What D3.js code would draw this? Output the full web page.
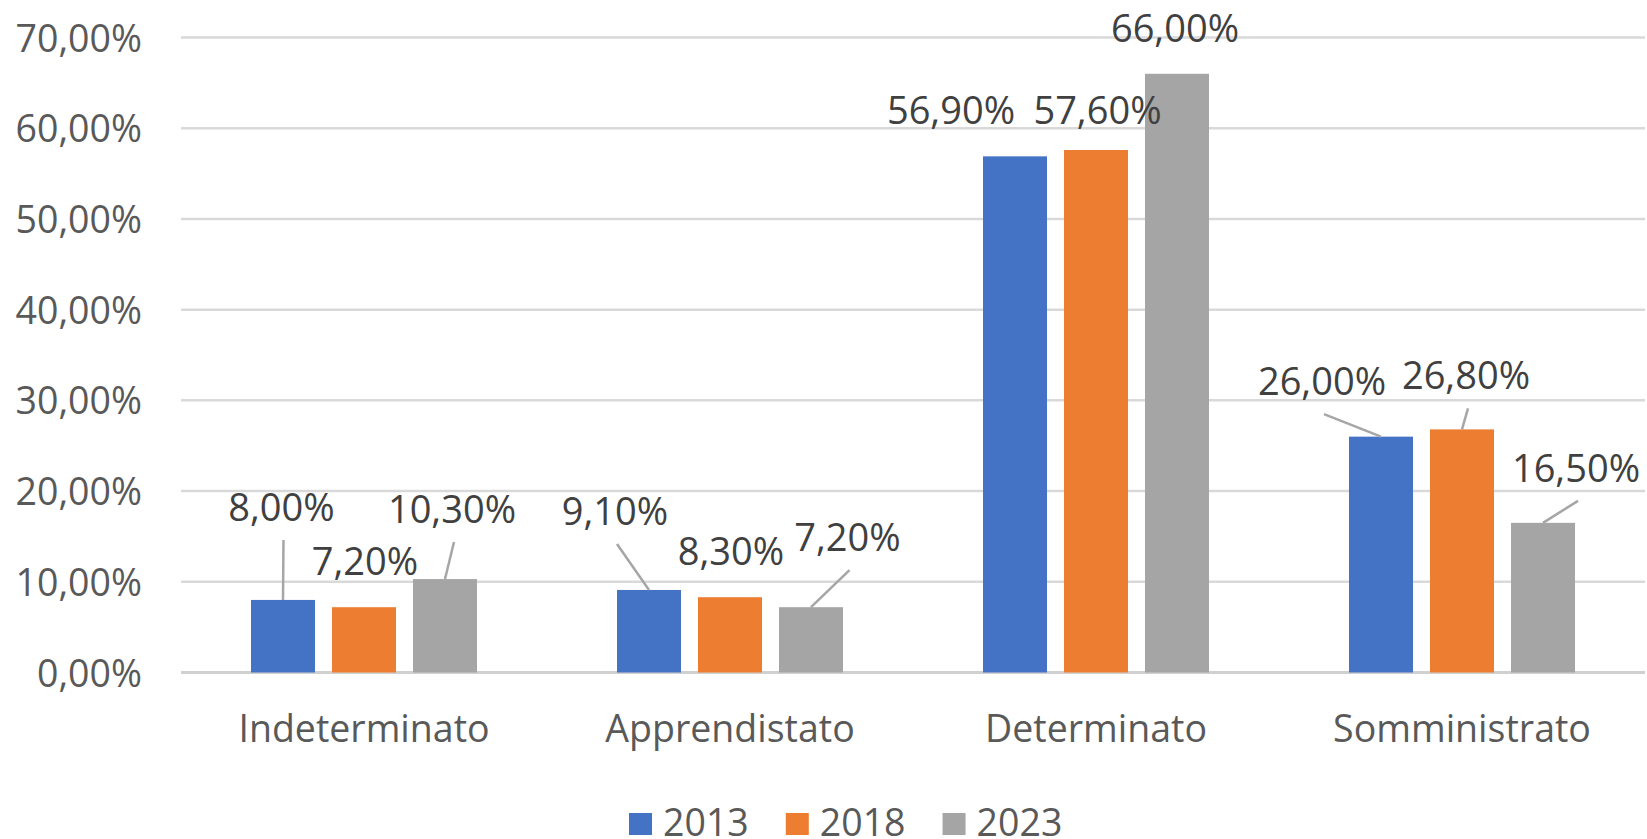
<!DOCTYPE html>
<html>
<head>
<meta charset="utf-8">
<script src="https://cdn.jsdelivr.net/npm/d3@7"></script>
<style>
  html, body { margin: 0; padding: 0; background: #ffffff; }
  svg { display: block; }
  text { font-family: "Open Sans", "Noto Sans", sans-serif; }
</style>
</head>
<body>
<svg id="chart" width="1647" height="839"></svg>
<script>
// ---- data ----
const categories = ["Indeterminato", "Apprendistato", "Determinato", "Somministrato"];
const years = ["2013", "2018", "2023"];
const values2013 = [8.0, 9.1, 56.9, 26.0];
const values2018 = [7.2, 8.3, 57.6, 26.8];
const values2023 = [10.3, 7.2, 66.0, 16.5];
const yTicks = [0, 10, 20, 30, 40, 50, 60, 70];

// ---- layout / style (not data) ----
const colors = ["#4472C4", "#ED7D31", "#A5A5A5"];
// manual data-label placement, relative to the top-centre of each bar (px)
const labelOffsets = [
  [[-1.5, -93], [1, -46], [7, -70]],
  [[-34, -79], [1, -46], [36.5, -70]],
  [[-64, -46], [1.5, -40], [-2, -45]],
  [[-59, -55.5], [4, -54], [33, -55]]
];

const series = [values2013, values2018, values2023];
const fmt = v => v.toFixed(2).replace(".", ",") + "%";

const svg = d3.select("#chart");
const plotLeft = 181, plotRight = 1645, plotTop = 37.5, plotBottom = 672.5;

const y = d3.scaleLinear().domain([0, 70]).range([plotBottom, plotTop]);
const x0 = d3.scaleBand().domain(categories).range([plotLeft, plotRight]).padding(0);
const groupInset = 70;
const x1 = d3.scaleBand().domain(years)
  .range([groupInset, x0.bandwidth() - groupInset]).paddingInner(0.21).paddingOuter(0);

// gridlines
svg.append("g")
  .selectAll("line")
  .data(yTicks)
  .join("line")
  .attr("x1", plotLeft).attr("x2", plotRight)
  .attr("y1", d => y(d)).attr("y2", d => y(d))
  .attr("stroke", d => d === 0 ? "#D0D0D0" : "#D9D9D9")
  .attr("stroke-width", d => d === 0 ? 3 : 2.5);

// y axis labels
const yAxis = d3.axisLeft(y).tickValues(yTicks).tickFormat(fmt).tickSize(0).tickPadding(0);
const yg = svg.append("g").attr("transform", `translate(142,0)`).call(yAxis);
yg.select(".domain").remove();
yg.selectAll("text")
  .attr("fill", "#595959")
  .style("font-size", "37.5px")
  .attr("dy", "0.36em")
  .style("font-family", '"Open Sans", sans-serif');

// category labels
const xAxis = d3.axisBottom(x0).tickSize(0).tickPadding(0);
const xg = svg.append("g").attr("transform", `translate(0,0)`).call(xAxis);
xg.select(".domain").remove();
xg.selectAll("text")
  .attr("y", 741.5).attr("dy", null)
  .attr("fill", "#595959")
  .style("font-size", "37.5px")
  .style("font-family", '"Open Sans", sans-serif');

// bars
const rows = [];
categories.forEach((c, ci) => {
  years.forEach((yr, si) => {
    rows.push({ c, ci, yr, si, v: series[si][ci] });
  });
});

const groups = svg.append("g").selectAll("g")
  .data(categories)
  .join("g")
  .attr("transform", d => `translate(${x0(d)},0)`);

groups.selectAll("rect")
  .data((c, ci) => rows.filter(r => r.ci === ci))
  .join("rect")
  .attr("x", d => x1(d.yr))
  .attr("width", x1.bandwidth())
  .attr("y", d => y(d.v))
  .attr("height", d => y(0) - y(d.v))
  .attr("fill", d => colors[d.si]);

// data labels + leader lines
const labelLayer = svg.append("g");
rows.forEach(r => {
  const bx = x0(r.c) + x1(r.yr) + x1.bandwidth() / 2;
  const by = y(r.v);
  const [dx, dy] = labelOffsets[r.ci][r.si];
  const cx = bx + dx, cy = by + dy;
  const ex = cx + 2, ey = cy + 33;
  if (by - ey > 15) {
    labelLayer.append("line")
      .attr("x1", bx).attr("y1", by)
      .attr("x2", ex).attr("y2", ey)
      .attr("stroke", "#A6A6A6")
      .attr("stroke-width", 2.5);
  }
  labelLayer.append("text")
    .attr("x", cx).attr("y", cy)
    .attr("dy", "0.36em")
    .attr("text-anchor", "middle")
    .attr("fill", "#404040")
    .style("font-size", "38px")
    .text(fmt(r.v));
});

// legend
const legend = svg.append("g");
let lx = 629;
years.forEach((yr, i) => {
  legend.append("rect")
    .attr("x", lx).attr("y", 813)
    .attr("width", 23).attr("height", 22)
    .attr("fill", colors[i]);
  const t = legend.append("text")
    .attr("x", lx + 34).attr("y", 835.5)
    .attr("fill", "#595959")
    .style("font-size", "37.5px")
    .text(yr);
  const w = t.node().getComputedTextLength();
  lx = lx + 34 + w + 37;
});
</script>
</body>
</html>
